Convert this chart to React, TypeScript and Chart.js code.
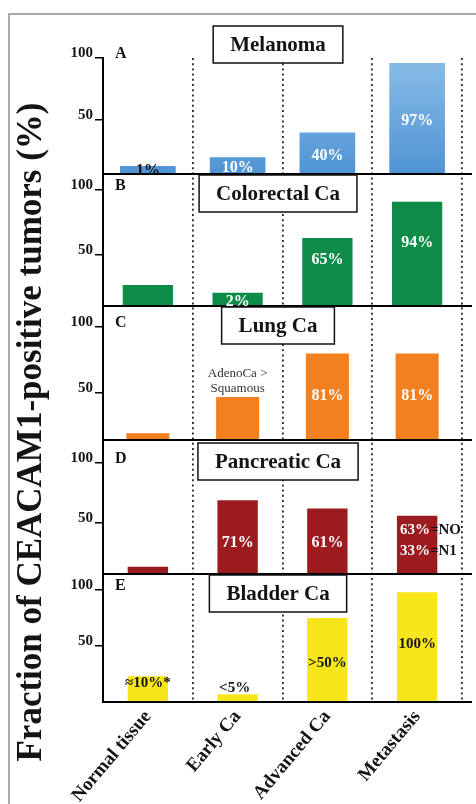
import React, { useEffect, useRef } from 'react';
import { Chart, registerables } from 'chart.js';

Chart.register(...registerables);

// ---------------- data ----------------
const categories = ['Normal tissue', 'Early Ca', 'Advanced Ca', 'Metastasis'];
const panelTitles = ['Melanoma', 'Colorectal Ca', 'Lung Ca', 'Pancreatic Ca', 'Bladder Ca'];
const panelLetters = ['A', 'B', 'C', 'D', 'E'];

const melanomaValues = [13, 20, 40, 96];
const colorectalValues = [27, 21, 63, 91];
const lungValues = [19.5, 47, 80, 80];
const pancreaticValues = [13.6, 69, 62, 56];
const bladderValues = [23, 7, 75, 98];

const yTickValues = [50, 100];
// axis range drawn in each panel (as in the original figure)
const panelMin = [6.5, 10.8, 14.4, 7.5, 0];
const panelMax = [100, 112.3, 115.9, 119.2, 114.3];

// bar annotations: text, category index, value level where the text sits
const melanomaText = ['1%', '10%', '40%', '97%'];
const melanomaTextLevel = [8.9, 11.3, 21, 49.2];
const colorectalText = ['', '2%', '65%', '94%'];
const colorectalTextLevel = [0, 13.8, 46, 59];
const lungText = ['', 'AdenoCa >|Squamous', '81%', '81%'];
const lungTextLevel = [0, 64.4, 47.7, 47.7];
const pancreaticText = ['', '71%', '61%', '63%=NO|33%=N1'];
const pancreaticTextLevel = [0, 33.3, 33.3, 44.2];
const bladderText = ['≈10%*', '<5%', '>50%', '100%'];
const bladderTextLevel = [17, 12.5, 34.8, 51.8];

// ---------------- styles ----------------
const SERIF = '"Liberation Serif", "Times New Roman", serif';
const DARK = '#141414';
const panelWeights = [116, 132, 134, 134, 128];
const barRatio = [0.62, 0.56, 0.48, 0.45, 0.45];
const titleBoxOffset = [-32, 1, 1, 3, 1];
const panelColors = ['#6aa7de', '#0c8c46', '#f3801f', '#9b1b1f', '#f7e61b'];
const axisIds = ['yA', 'yB', 'yC', 'yD', 'yE'];

const panelValues = [melanomaValues, colorectalValues, lungValues, pancreaticValues, bladderValues];
const panelTexts = [melanomaText, colorectalText, lungText, pancreaticText, bladderText];
const panelTextLevels = [melanomaTextLevel, colorectalTextLevel, lungTextLevel, pancreaticTextLevel, bladderTextLevel];
// text colour per panel / bar
const panelTextColors = [
  [DARK, '#fff', '#fff', '#fff'],
  ['#fff', '#fff', '#fff', '#fff'],
  ['#333', '#333', '#fff', '#fff'],
  ['#fff', '#fff', '#fff', '#fff'],
  [DARK, DARK, DARK, DARK],
];
const lineGaps = [0, 0, 15, 21, 0];

const blueFill = (ctx: any) => {
  const chart = ctx.chart;
  const s = chart.scales && chart.scales.yA;
  if (!s || !chart.chartArea) return panelColors[0];
  const g = chart.ctx.createLinearGradient(0, s.top, 0, s.bottom);
  g.addColorStop(0, '#8abde8');
  g.addColorStop(1, '#4f94d4');
  return g;
};

const panelsPlugin = {
  id: 'panelsPlugin',
  beforeDraw(chart: any) {
    const { ctx } = chart;
    ctx.save();
    ctx.fillStyle = '#fff';
    ctx.fillRect(0, 0, chart.width, chart.height);
    ctx.strokeStyle = '#ababab';
    ctx.lineWidth = 2;
    ctx.beginPath();
    ctx.moveTo(9, chart.height + 5);
    ctx.lineTo(9, 14);
    ctx.lineTo(chart.width + 5, 14);
    ctx.stroke();
    ctx.restore();
  },
  afterDraw(chart: any) {
    const { ctx, chartArea } = chart;
    const xs = chart.scales.x;
    axisIds.forEach((id, i) => {
      const s = chart.scales[id];
      // panel bottom line
      ctx.save();
      ctx.strokeStyle = '#000';
      ctx.lineWidth = 2;
      ctx.beginPath();
      ctx.moveTo(chartArea.left - 1, s.bottom);
      ctx.lineTo(chartArea.right + 10, s.bottom);
      ctx.stroke();
      ctx.restore();

      // bar texts, clipped to the panel
      const meta = chart.getDatasetMeta(i);
      ctx.save();
      ctx.beginPath();
      ctx.rect(0, s.top, chart.width, s.bottom - s.top);
      ctx.clip();
      panelTexts[i].forEach((txt, c) => {
        if (!txt) return;
        const el = meta.data[c];
        const y0 = s.getPixelForValue(panelTextLevels[i][c]);
        const lines = txt.split('|');
        lines.forEach((line, li) => {
          const y = y0 + li * lineGaps[i];
          ctx.textBaseline = 'middle';
          if (line.includes('=')) {
            const [a, b] = line.split('=');
            ctx.font = `bold 15px ${SERIF}`;
            const left = el.x - el.width / 2 + 3;
            ctx.textAlign = 'left';
            ctx.fillStyle = '#fff';
            ctx.fillText(a, left, y);
            const w = ctx.measureText(a).width;
            ctx.fillStyle = DARK;
            ctx.fillText('=' + b, left + w, y);
          } else {
            const isNote = i === 2 && c === 1;
            ctx.font = isNote ? `13px ${SERIF}` : `bold ${i === 4 ? 15 : 16}px ${SERIF}`;
            ctx.textAlign = 'center';
            ctx.fillStyle = panelTextColors[i][c];
            ctx.fillText(line, el.x + (i === 4 && c === 1 ? -3 : 0), y);
          }
        });
      });
      ctx.restore();

      // panel letter
      ctx.save();
      ctx.font = `bold 16px ${SERIF}`;
      ctx.fillStyle = DARK;
      ctx.textAlign = 'left';
      ctx.textBaseline = 'middle';
      ctx.fillText(panelLetters[i], chartArea.left + 12, s.getPixelForValue(100) - 4);
      ctx.restore();

      // title box
      ctx.save();
      ctx.font = `bold 21px ${SERIF}`;
      const tw = ctx.measureText(panelTitles[i]).width;
      const bw = tw + 34;
      const bh = 37;
      const cx = xs.getPixelForValue(1.45);
      const top = s.top + titleBoxOffset[i];
      ctx.fillStyle = '#fff';
      ctx.fillRect(cx - bw / 2, top, bw, bh);
      ctx.strokeStyle = '#111';
      ctx.lineWidth = 1.5;
      ctx.strokeRect(cx - bw / 2, top, bw, bh);
      ctx.fillStyle = DARK;
      ctx.textAlign = 'center';
      ctx.textBaseline = 'middle';
      ctx.fillText(panelTitles[i], cx, top + bh / 2 + 1);
      ctx.restore();
    });

    // common y title
    ctx.save();
    ctx.translate(32, 432);
    ctx.rotate(-Math.PI / 2);
    ctx.font = `bold 35px ${SERIF}`;
    ctx.fillStyle = DARK;
    ctx.textAlign = 'center';
    ctx.textBaseline = 'middle';
    ctx.fillText('Fraction of CEACAM1-positive tumors (%)', 0, 0);
    ctx.restore();
  },
};

function yScale(i: number) {
  return {
    type: 'linear',
    position: 'left',
    stack: 'panels',
    stackWeight: panelWeights[i],
    weight: 10 - i,
    min: panelMin[i],
    max: panelMax[i],
    afterBuildTicks: (s: any) => {
      s.ticks = yTickValues.map((v) => ({ value: v }));
    },
    afterFit: (s: any) => {
      s.width = 103;
    },
    grid: {
      drawOnChartArea: false,
      drawTicks: true,
      tickLength: 8,
      color: '#000',
      lineWidth: 1.5,
    },
    border: { display: true, color: '#000', width: 2 },
    ticks: {
      color: DARK,
      padding: 2,
      labelOffset: -5,
      font: { family: SERIF, size: 15, weight: 'bold' },
    },
  };
}

export default function App() {
  const ref = useRef<HTMLCanvasElement>(null);

  useEffect(() => {
    if (!ref.current) return;
    const datasets = panelValues.map((vals, i) => ({
      label: panelTitles[i],
      data: vals,
      yAxisID: axisIds[i],
      grouped: false,
      base: panelMin[i],
      categoryPercentage: 1,
      barPercentage: barRatio[i],
      backgroundColor: i === 0 ? blueFill : panelColors[i],
      borderWidth: 0,
    }));

    const scales: any = {
      x: {
        type: 'category',
        offset: true,
        grid: { offset: true, drawTicks: false, color: '#2a2a2a', lineWidth: 1.8 },
        border: { display: true, color: '#000', width: 2, dash: [2, 3.2] },
        ticks: {
          autoSkip: false,
          maxRotation: 50,
          minRotation: 50,
          padding: 4,
          color: DARK,
          font: { family: SERIF, size: 19, weight: 'bold' },
        },
        afterFit: (s: any) => {
          s.height = 102;
        },
      },
    };
    axisIds.forEach((id, i) => {
      scales[id] = yScale(i);
    });

    const chart = new Chart(ref.current, {
      type: 'bar',
      data: { labels: categories, datasets },
      options: {
        responsive: false,
        animation: false,
        layout: { padding: { top: 58, right: 14, left: 0, bottom: 0 } },
        plugins: { legend: { display: false }, tooltip: { enabled: false } },
        scales,
      },
      plugins: [panelsPlugin],
    } as any);
    return () => chart.destroy();
  }, []);

  return (
    <div style={{ position: 'absolute', left: 0, top: 0, width: 476, height: 804, background: '#fff' }}>
      <canvas ref={ref} width={476} height={804} style={{ display: 'block' }} />
    </div>
  );
}
